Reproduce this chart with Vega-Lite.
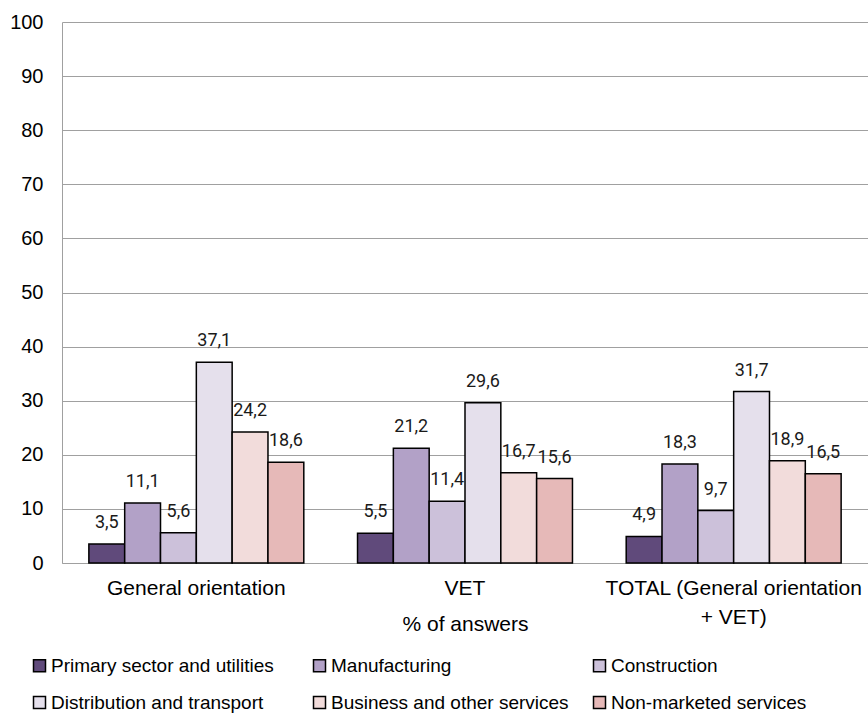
{
  "$schema": "https://vega.github.io/schema/vega-lite/v6.json",
  "autosize": {"type": "none"},
  "padding": {"left": 62, "top": 22, "right": 0, "bottom": 151},
  "width": 806,
  "height": 541,
  "background": "white",
  "config": {
    "view": {"stroke": null},
    "locale": {"number": {"decimal": ",", "thousands": ".", "grouping": [3], "currency": ["", " €"]}},
    "axis": {
      "labelFont": "Liberation Sans",
      "labelColor": "#000000",
      "titleFont": "Liberation Sans",
      "titleFontSize": 21,
      "titleFontWeight": "normal",
      "titleColor": "#000000"
    },
    "legend": {
      "labelFont": "Liberation Sans",
      "labelFontSize": 19,
      "labelColor": "#000000"
    }
  },
  "data": {
    "values": [
      {"group": "General orientation", "sector": "Primary sector and utilities", "value": 3.5},
      {"group": "General orientation", "sector": "Manufacturing", "value": 11.1},
      {"group": "General orientation", "sector": "Construction", "value": 5.6},
      {"group": "General orientation", "sector": "Distribution and transport", "value": 37.1},
      {"group": "General orientation", "sector": "Business and other services", "value": 24.2},
      {"group": "General orientation", "sector": "Non-marketed services", "value": 18.6},
      {"group": "VET", "sector": "Primary sector and utilities", "value": 5.5},
      {"group": "VET", "sector": "Manufacturing", "value": 21.2},
      {"group": "VET", "sector": "Construction", "value": 11.4},
      {"group": "VET", "sector": "Distribution and transport", "value": 29.6},
      {"group": "VET", "sector": "Business and other services", "value": 16.7},
      {"group": "VET", "sector": "Non-marketed services", "value": 15.6},
      {"group": "TOTAL (General orientation + VET)", "sector": "Primary sector and utilities", "value": 4.9},
      {"group": "TOTAL (General orientation + VET)", "sector": "Manufacturing", "value": 18.3},
      {"group": "TOTAL (General orientation + VET)", "sector": "Construction", "value": 9.7},
      {"group": "TOTAL (General orientation + VET)", "sector": "Distribution and transport", "value": 31.7},
      {"group": "TOTAL (General orientation + VET)", "sector": "Business and other services", "value": 18.9},
      {"group": "TOTAL (General orientation + VET)", "sector": "Non-marketed services", "value": 16.5}
    ]
  },
  "encoding": {
    "x": {
      "field": "group",
      "type": "nominal",
      "sort": ["General orientation", "VET", "TOTAL (General orientation + VET)"],
      "scale": {"paddingInner": 0.2, "paddingOuter": 0.1},
      "axis": {
        "title": "% of answers",
        "labelAngle": 0,
        "labelFontSize": 21,
        "ticks": false,
        "domainColor": "#a0a0a0",
        "domainWidth": 1,
        "labelPadding": 14,
        "labelBaseline": "top",
        "labelLimit": 400,
        "labelLineHeight": 29,
        "labelExpr": "datum.label == 'TOTAL (General orientation + VET)' ? ['TOTAL (General orientation', '+ VET)'] : datum.label",
        "titleBaseline": "middle",
        "titleY": 61
      }
    },
    "xOffset": {
      "field": "sector",
      "type": "nominal",
      "sort": ["Primary sector and utilities", "Manufacturing", "Construction", "Distribution and transport", "Business and other services", "Non-marketed services"]
    },
    "y": {
      "field": "value",
      "type": "quantitative",
      "scale": {"domain": [0, 100], "nice": false},
      "axis": {
        "title": null,
        "values": [0, 10, 20, 30, 40, 50, 60, 70, 80, 90, 100],
        "labelFontSize": 20,
        "ticks": false,
        "labelPadding": 19,
        "domainColor": "#a0a0a0",
        "domainWidth": 1,
        "gridColor": "#a0a0a0",
        "gridWidth": 1
      }
    }
  },
  "layer": [
    {
      "mark": {"type": "bar", "stroke": "#000000", "strokeWidth": 1.5},
      "encoding": {
        "color": {
          "field": "sector",
          "type": "nominal",
          "sort": ["Primary sector and utilities", "Manufacturing", "Construction", "Distribution and transport", "Business and other services", "Non-marketed services"],
          "scale": {
            "domain": ["Primary sector and utilities", "Manufacturing", "Construction", "Distribution and transport", "Business and other services", "Non-marketed services"],
            "range": ["#604a7b", "#b2a1c7", "#ccc1da", "#e5e0ec", "#f2dcdb", "#e6b9b8"]
          },
          "legend": {
            "title": null,
            "orient": "none",
            "legendX": -32,
            "legendY": 634,
            "direction": "horizontal",
            "columns": 3,
            "gridAlign": "all",
            "columnPadding": 21,
            "rowPadding": 17,
            "symbolType": "square",
            "symbolSize": 144,
            "symbolStrokeColor": "#000000",
            "symbolStrokeWidth": 1.5,
            "symbolOpacity": 1,
            "labelOffset": 2,
            "labelLimit": 400
          }
        }
      }
    },
    {
      "mark": {
        "type": "text",
        "baseline": "alphabetic",
        "align": "center",
        "dy": -16,
        "font": "Roboto",
        "fontSize": 18,
        "color": "#1a1a1a"
      },
      "encoding": {
        "text": {"field": "value", "type": "quantitative", "format": ".1f"}
      }
    }
  ]
}
